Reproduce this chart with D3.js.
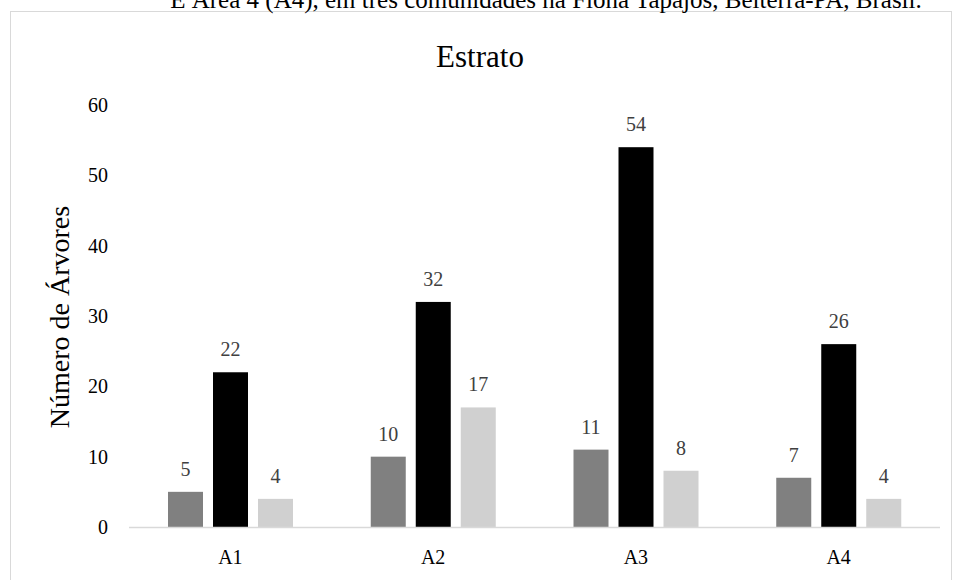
<!DOCTYPE html>
<html>
<head>
<meta charset="utf-8">
<script src="https://cdn.jsdelivr.net/npm/d3@7"></script>
<style>
  body { margin: 0; background: #fff; }
  svg { display: block; font-family: "Liberation Serif", "Times New Roman", serif; }
</style>
</head>
<body>
<svg id="chart" width="958" height="580"></svg>
<script>
width = 958
height = 580

// dados
const areas = ["A1", "A2", "A3", "A4"];
const estratos = ["s1", "s2", "s3"];
const s1 = [5, 10, 11, 7];
const s2 = [22, 32, 54, 26];
const s3 = [4, 17, 8, 4];
const yTicks = [0, 10, 20, 30, 40, 50, 60];
const colors = ["#808080", "#000000", "#d0d0d0"];

const series = [s1, s2, s3];

const svg = d3.select("#chart");

// chart area border
svg.append("rect")
    .attr("x", 10.5)
    .attr("y", 11.5)
    .attr("width", 941)
    .attr("height", 600)
    .attr("fill", "#fff")
    .attr("stroke", "#d9d9d9");

// caption, cut off at the top like the source
svg.append("text")
    .attr("x", 546)
    .attr("y", 7.5)
    .attr("text-anchor", "middle")
    .attr("font-size", 25)
    .attr("fill", "#000")
    .text("E Área 4 (A4), em três comunidades na Flona Tapajós, Belterra-PA, Brasil.");

const x0 = d3.scaleBand()
    .domain(areas)
    .range([129, 940]);

const x1 = d3.scaleBand()
    .domain(estratos)
    .range([39, 164])
    .paddingInner(10 / 45);

const y = d3.scaleLinear()
    .domain([0, 60])
    .range([527, 105]);

svg.append("text")
    .attr("x", 480)
    .attr("y", 67)
    .attr("text-anchor", "middle")
    .attr("font-size", 31)
    .attr("fill", "#000")
    .text("Estrato");

// y axis labels
svg.append("g")
  .selectAll("text")
  .data(yTicks)
  .join("text")
    .attr("x", 108)
    .attr("y", function (d) { return y(d) + 7 })
    .attr("text-anchor", "end")
    .attr("font-size", 20)
    .attr("fill", "#000")
    .text(function (d) { return d });

svg.append("text")
    .attr("transform", "translate(69,317) rotate(-90)")
    .attr("text-anchor", "middle")
    .attr("font-size", 28)
    .attr("fill", "#000")
    .text("Número de Árvores");

const groups = svg.append("g")
  .selectAll("g")
  .data(areas)
  .join("g")
    .attr("transform", function (d) { return "translate(" + x0(d) + ",0)" });

const bars = groups.selectAll("g")
  .data(function (d, i) {
    return estratos.map(function (k, j) { return {key: k, idx: j, value: series[j][i]} });
  })
  .join("g");

bars.append("rect")
    .attr("x", function (d) { return x1(d.key) })
    .attr("y", function (d) { return y(d.value) })
    .attr("width", x1.bandwidth())
    .attr("height", function (d) { return y(0) - y(d.value) })
    .attr("fill", function (d) { return colors[d.idx] });

bars.append("text")
    .attr("x", function (d) { return x1(d.key) + x1.bandwidth() / 2 })
    .attr("y", function (d) { return y(d.value) - 16 })
    .attr("text-anchor", "middle")
    .attr("font-size", 20)
    .attr("fill", "#404040")
    .text(function (d) { return d.value });

// baseline
svg.append("line")
    .attr("x1", 129)
    .attr("x2", 940)
    .attr("y1", y(0) + 0.5)
    .attr("y2", y(0) + 0.5)
    .attr("stroke", "#d9d9d9")
    .attr("stroke-width", 1.5);

// x labels
svg.append("g")
  .selectAll("text")
  .data(areas)
  .join("text")
    .attr("x", function (d) { return x0(d) + x0.bandwidth() / 2 })
    .attr("y", 564)
    .attr("text-anchor", "middle")
    .attr("font-size", 20)
    .attr("fill", "#000")
    .text(function (d) { return d });
</script>
</body>
</html>
